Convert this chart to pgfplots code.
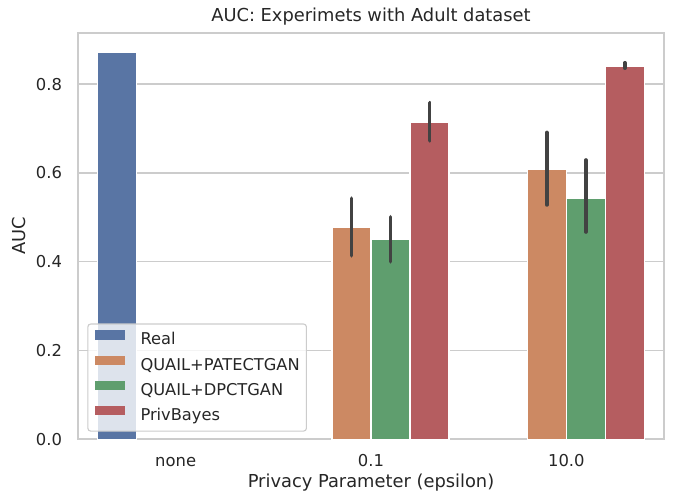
\documentclass[border=0pt]{standalone}
\usepackage{pgfplots}
\pgfplotsset{compat=1.18}
\usepackage{pgfplotstable}
\usepackage{fontspec}
\setmainfont{DejaVu Sans}
\definecolor{cReal}{HTML}{5975A4}
\definecolor{cPate}{HTML}{CC8963}
\definecolor{cDp}{HTML}{5F9E6E}
\definecolor{cPriv}{HTML}{B55D60}
\definecolor{gridc}{HTML}{CCCCCC}
\definecolor{errc}{HTML}{424242}
\definecolor{txt}{HTML}{262626}
\pgfplotstableread{
x y ep em
-0.3 0.872 0 0
}\tReal
\pgfplotstableread{
x y ep em
0.9 0.478 0.065 0.0645
1.9 0.609 0.082 0.081
}\tPate
\pgfplotstableread{
x y ep em
1.1 0.4505 0.0505 0.0505
2.1 0.542 0.087 0.075
}\tDp
\pgfplotstableread{
x y ep em
1.3 0.714 0.044 0.0415
2.3 0.840 0.008 0.004
}\tPriv
\pgfplotsset{
  patch/.style={legend image code/.code={%
    \fill[fill=#1, draw=none, sharp corners, fill opacity=1] (0pt,0.92pt) rectangle (22pt,7.62pt);
    \path (32.6pt,0pt);}},
  errs/.style={error bars/.cd, y dir=both, y explicit, error mark=none,
    error bar style={line width=2.7pt, color=errc, line cap=round}}
}
\begin{document}
\begin{tikzpicture}
\path[use as bounding box] (0,0) rectangle (488.16pt,361.44pt);
\begin{axis}[
  at={(56.16pt,45.14pt)}, anchor=south west,
  scale only axis, width=421.92pt, height=292.75pt,
  xmin=-0.5, xmax=2.5, ymin=0, ymax=0.9158,
  axis line style={gridc, line width=1.25pt},
  ymajorgrids, grid style={gridc, line width=1pt},
  major tick length=0pt,
  xtick={0,1,2}, xticklabels={none,0.1,10.0},
  ytick={0,0.2,0.4,0.6,0.8},
  /pgf/number format/.cd, fixed, fixed zerofill, precision=1, assume math mode=true,
  /pgfplots/.cd,
  tick label style={font=\fontsize{11.8}{14}\selectfont, text=txt, inner sep=0pt},
  yticklabel style={anchor=east, xshift=-11.3pt},
  xticklabel style={anchor=base, yshift=-19.4pt},
  bar width=0.2,
  legend cell align=left,
  legend style={at={(0.0159,0.0188)}, anchor=south west,
    fill=white, fill opacity=0.8, draw opacity=1, text opacity=1, draw=gridc, line width=0.8pt,
    rounded corners=2pt, inner xsep=4.8pt, inner ysep=4.6pt, row sep=4.8pt,
    font=\fontsize{11.7}{14}\selectfont, text=txt,
    nodes={inner sep=0pt, text height=8.5pt, text depth=3pt}},
]
\addplot[ybar, bar shift=0pt, fill=cReal, draw=white, line width=1pt, patch=cReal] table[x=x,y=y] {\tReal};
\addlegendentry{Real}
\addplot[ybar, bar shift=0pt, fill=cPate, draw=white, line width=1pt, patch=cPate, errs] table[x=x,y=y,y error plus=ep,y error minus=em] {\tPate};
\addlegendentry{QUAIL+PATECTGAN}
\addplot[ybar, bar shift=0pt, fill=cDp, draw=white, line width=1pt, patch=cDp, errs] table[x=x,y=y,y error plus=ep,y error minus=em] {\tDp};
\addlegendentry{QUAIL+DPCTGAN}
\addplot[ybar, bar shift=0pt, fill=cPriv, draw=white, line width=1pt, patch=cPriv, errs] table[x=x,y=y,y error plus=ep,y error minus=em] {\tPriv};
\addlegendentry{PrivBayes}
\end{axis}
\node[anchor=base, text=txt, font=\fontsize{12.85}{15}\selectfont] at (267.12pt,346pt) {AUC: Experimets with Adult dataset};
\node[anchor=base, text=txt, font=\fontsize{12.85}{15}\selectfont] at (267.12pt,10.15pt) {Privacy Parameter (epsilon)};
\node[anchor=base, rotate=90, text=txt, font=\fontsize{12.85}{15}\selectfont] at (18.4pt,191.5pt) {AUC};
\end{tikzpicture}
\end{document}
